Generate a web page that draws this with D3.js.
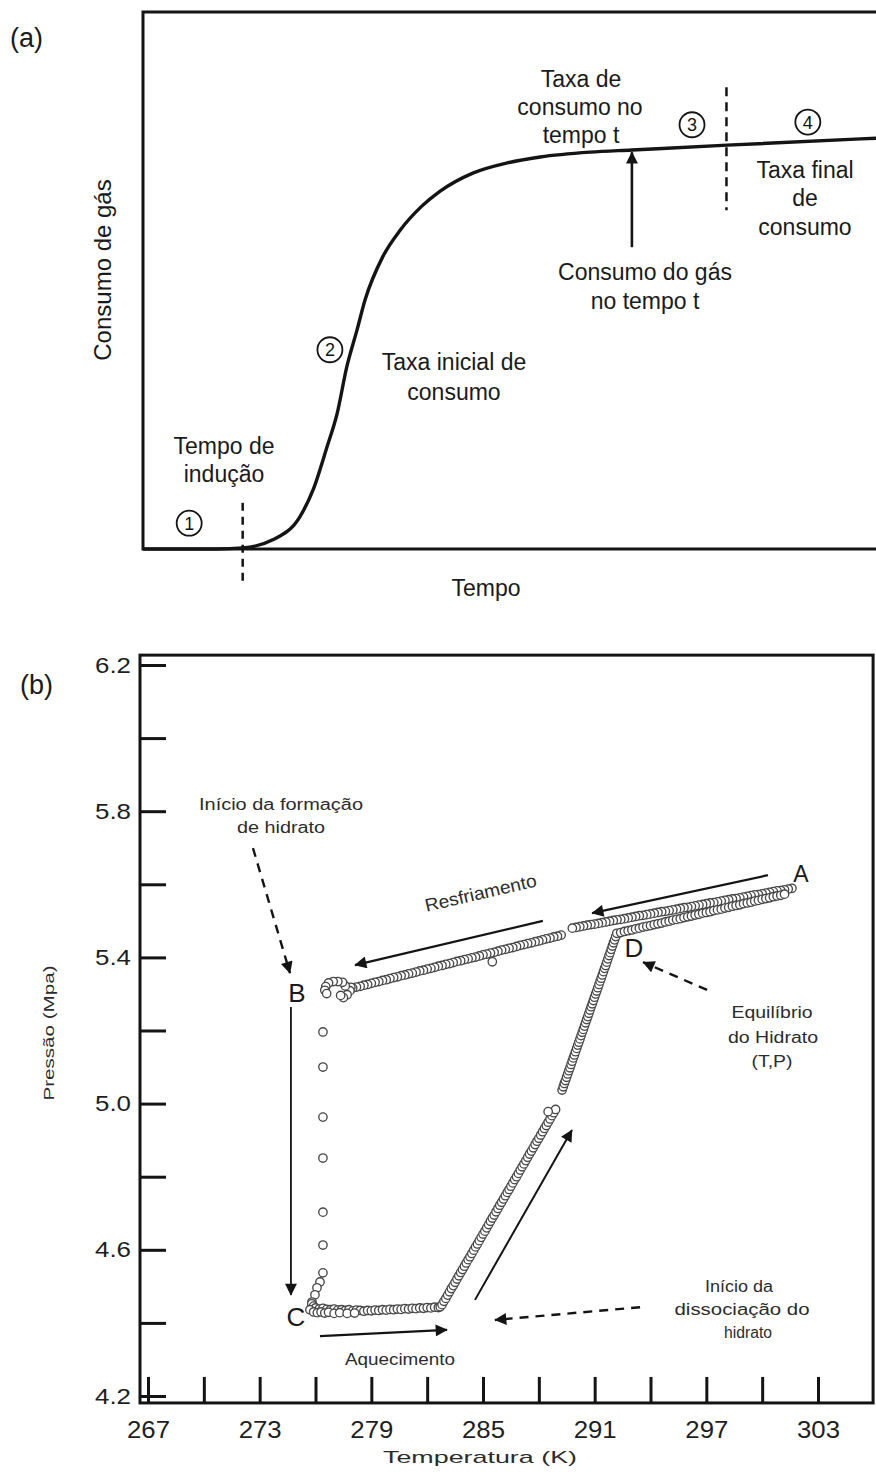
<!DOCTYPE html>
<html>
<head>
<meta charset="utf-8">
<script src="https://cdn.jsdelivr.net/npm/d3@7"></script>
<style>
  html, body { margin: 0; padding: 0; background: #fff; }
  svg { display: block; font-family: "Liberation Sans", Arial, sans-serif; }
</style>
</head>
<body>
<svg id="chart" width="876" height="1472"></svg>
<script>
// ---------------- Panel (a): gas consumption vs. time (arbitrary units) ----------------
const tempoA   = [0, 5, 10, 13.6, 17.7, 21.4, 23.2, 25.1, 26.5, 27.8, 29.2, 30.3, 32.7, 35.1, 38.0, 40.5, 45.0, 49.7, 54.2, 61.0, 66.7, 79.7, 100];
const consumoA = [0, 0, 0, 0.2, 1.7, 6.0, 11.0, 19.0, 25.3, 33.9, 40.8, 46.4, 54.4, 59.4, 63.8, 66.6, 70.0, 71.9, 73.0, 73.9, 74.3, 75.2, 76.5];

// stage markers of the consumption curve: [tempo, consumo, label]
const stageMarks = [[6.3, 4.8, "1"], [25.5, 37.1, "2"], [74.9, 79.0, "3"], [90.7, 79.5, "4"]];

// ---------------- Panel (b): pressure (MPa) vs. temperature (K) ----------------
// cooling A -> B (upper run, before the small gap)
const coolingUpper = [
  [301.6,5.589],[301.4,5.587],[301.2,5.585],[301.0,5.583],[300.8,5.582],[300.6,5.580],[300.4,5.578],[300.2,5.576],
  [300.0,5.574],[299.8,5.572],[299.6,5.571],[299.4,5.569],[299.2,5.567],[299.0,5.565],[298.8,5.563],[298.6,5.561],
  [298.4,5.560],[298.2,5.558],[298.0,5.556],[297.8,5.554],[297.6,5.552],[297.4,5.550],[297.2,5.549],[297.0,5.547],
  [296.8,5.545],[296.6,5.543],[296.4,5.541],[296.2,5.539],[296.0,5.537],[295.8,5.536],[295.6,5.534],[295.4,5.532],
  [295.2,5.530],[295.0,5.528],[294.8,5.526],[294.6,5.525],[294.4,5.523],[294.2,5.521],[294.0,5.519],[293.8,5.517],
  [293.6,5.515],[293.4,5.514],[293.2,5.512],[293.0,5.510],[292.8,5.508],[292.6,5.506],[292.4,5.504],[292.2,5.503],
  [292.0,5.501],[291.8,5.499],[291.6,5.497],[291.4,5.495],[291.2,5.493],[291.0,5.491],[290.8,5.490],[290.6,5.488],
  [290.4,5.486],[290.2,5.484],[290.0,5.482],[289.8,5.480]
];
// cooling A -> B (lower run, after the gap, down to B)
const coolingLower = [
  [289.2,5.461],[289.0,5.458],[288.8,5.456],[288.6,5.453],[288.4,5.451],[288.2,5.448],[288.0,5.445],[287.8,5.443],
  [287.6,5.440],[287.4,5.438],[287.2,5.435],[287.0,5.433],[286.8,5.430],[286.6,5.427],[286.4,5.425],[286.2,5.422],
  [286.0,5.420],[285.8,5.417],[285.6,5.414],[285.4,5.412],[285.5,5.388],[285.2,5.409],[285.0,5.407],[284.8,5.404],
  [284.6,5.401],[284.4,5.399],[284.2,5.396],[284.0,5.394],[283.8,5.391],[283.6,5.389],[283.4,5.386],[283.2,5.383],
  [283.0,5.381],[282.8,5.378],[282.6,5.376],[282.4,5.373],[282.2,5.370],[282.0,5.368],[281.8,5.365],[281.6,5.363],
  [281.4,5.360],[281.2,5.357],[281.0,5.355],[280.8,5.352],[280.6,5.350],[280.4,5.347],[280.2,5.345],[280.0,5.342],
  [279.8,5.339],[279.6,5.337],[279.4,5.334],[279.2,5.332],[279.0,5.329],[278.8,5.326],[278.6,5.324],[278.4,5.321],
  [278.2,5.319],[278.0,5.316]
];
// small loop at B where hydrate formation starts
const loopB = [
  [277.9,5.318],[277.85,5.309],[277.7,5.298],[277.5,5.290],[277.35,5.296],[277.6,5.322],[277.45,5.332],
  [277.2,5.334],[276.95,5.334],[276.7,5.330],[276.55,5.320],[276.5,5.310],[276.6,5.301]
];
// pressure drop B -> C during hydrate growth
const dropBC = [
  [276.4,5.196],[276.4,5.100],[276.4,4.963],[276.4,4.851],[276.4,4.703],[276.4,4.613],
  [276.4,4.537],[276.24,4.512],[276.08,4.496],[275.97,4.477],[275.81,4.457]
];
// heating from C, nearly constant pressure
const heatingFlat = [
  [275.8,4.452],[275.9,4.446],[276.0,4.441],[276.2,4.438],[276.4,4.440],[276.6,4.437],[276.8,4.436],[277.0,4.438],
  [277.2,4.435],[277.4,4.436],[277.6,4.434],[277.8,4.436],[278.0,4.433],[278.2,4.435],[278.4,4.434],[278.6,4.432],
  [278.8,4.434],[279.0,4.433],[279.2,4.435],[279.4,4.434],[279.6,4.436],[279.8,4.435],[280.0,4.437],[280.2,4.436],
  [280.4,4.438],[280.6,4.437],[280.8,4.439],[281.0,4.438],[281.2,4.440],[281.4,4.439],[281.6,4.441],[281.8,4.440],
  [282.0,4.442],[282.2,4.441],[282.4,4.443],[282.6,4.442],[282.7,4.444],
  [275.7,4.436],[275.9,4.430],[276.1,4.428],[276.3,4.430],[276.5,4.427],[276.7,4.429],[277.0,4.426],[277.3,4.428],
  [277.7,4.426],[278.1,4.427]
];
// heating: hydrate dissociation, steep rise (first run)
const riseLower = [
  [282.8,4.450],[282.9,4.459],[283.0,4.467],[283.1,4.476],[283.2,4.485],[283.3,4.494],[283.4,4.502],[283.5,4.511],
  [283.6,4.520],[283.7,4.529],[283.8,4.538],[283.9,4.546],[284.0,4.555],[284.1,4.564],[284.2,4.573],[284.3,4.581],
  [284.4,4.590],[284.5,4.599],[284.6,4.608],[284.7,4.616],[284.8,4.625],[284.9,4.634],[285.0,4.643],[285.1,4.651],
  [285.2,4.660],[285.3,4.669],[285.4,4.678],[285.5,4.687],[285.6,4.695],[285.7,4.704],[285.8,4.713],[285.9,4.722],
  [286.0,4.730],[286.1,4.739],[286.2,4.748],[286.3,4.757],[286.4,4.765],[286.5,4.774],[286.6,4.783],[286.7,4.792],
  [286.8,4.800],[286.9,4.809],[287.0,4.818],[287.1,4.827],[287.2,4.835],[287.3,4.844],[287.4,4.853],[287.5,4.862],
  [287.6,4.870],[287.7,4.879],[287.8,4.888],[287.9,4.897],[288.0,4.905],[288.1,4.914],[288.2,4.923],[288.3,4.932],
  [288.4,4.940],[288.5,4.949],[288.6,4.958],[288.7,4.967],[288.8,4.975],[288.9,4.984],[288.5,4.978]
];
// heating: steeper rise up to D
const riseUpper = [
  [289.25,5.037],[289.31,5.046],[289.37,5.055],[289.43,5.063],[289.49,5.072],[289.55,5.081],[289.61,5.090],[289.67,5.098],
  [289.73,5.107],[289.79,5.116],[289.85,5.125],[289.91,5.133],[289.97,5.142],[290.03,5.151],[290.09,5.160],[290.15,5.168],
  [290.21,5.177],[290.27,5.186],[290.33,5.195],[290.39,5.203],[290.45,5.212],[290.51,5.221],[290.57,5.230],[290.63,5.238],
  [290.69,5.247],[290.75,5.256],[290.81,5.265],[290.87,5.273],[290.93,5.282],[290.99,5.291],[291.05,5.300],[291.11,5.308],
  [291.17,5.317],[291.23,5.326],[291.29,5.335],[291.35,5.343],[291.41,5.352],[291.47,5.361],[291.53,5.370],[291.59,5.378],
  [291.65,5.387],[291.71,5.396],[291.77,5.405],[291.83,5.413],[291.89,5.422],[291.95,5.431],[292.01,5.440],[292.07,5.448],
  [292.13,5.457],[292.19,5.466]
];
// heating D -> A, gas phase only
const heatingDA = [
  [292.4,5.468],[292.6,5.471],[292.8,5.473],[293.0,5.475],[293.2,5.478],[293.4,5.480],[293.6,5.483],[293.8,5.485],
  [294.0,5.487],[294.2,5.490],[294.4,5.492],[294.6,5.494],[294.8,5.497],[295.0,5.499],[295.2,5.502],[295.4,5.504],
  [295.6,5.506],[295.8,5.509],[296.0,5.511],[296.2,5.513],[296.4,5.516],[296.6,5.518],[296.8,5.521],[297.0,5.523],
  [297.2,5.525],[297.4,5.528],[297.6,5.530],[297.8,5.532],[298.0,5.535],[298.2,5.537],[298.4,5.540],[298.6,5.542],
  [298.8,5.544],[299.0,5.547],[299.2,5.549],[299.4,5.551],[299.6,5.554],[299.8,5.556],[300.0,5.559],[300.2,5.561],
  [300.4,5.563],[300.6,5.566],[300.8,5.568],[301.0,5.570],[301.2,5.573]
];

const yTicksB  = [4.2, 4.4, 4.6, 4.8, 5.0, 5.2, 5.4, 5.6, 5.8, 6.0, 6.2];
const yLabelsB = [4.2, 4.6, 5.0, 5.4, 5.8, 6.2];
const xTicksB  = [267, 270, 273, 276, 279, 282, 285, 288, 291, 294, 297, 300, 303];
const xLabelsB = [267, 273, 279, 285, 291, 297, 303];

// ---------------- drawing ----------------
const svg = d3.select("#chart");
const ink = "#141414";
const FONT = '"Liberation Sans", Arial, sans-serif';

const defs = svg.append("defs");
function addMarker(id, w, h) {
  defs.append("marker")
    .attr("id", id).attr("viewBox", "0 0 10 10")
    .attr("refX", 9.5).attr("refY", 5)
    .attr("markerWidth", w).attr("markerHeight", h)
    .attr("markerUnits", "userSpaceOnUse").attr("orient", "auto")
    .append("path").attr("d", "M0,0 L10,5 L0,10 Z").attr("fill", ink);
}
addMarker("headA", 15, 12);
addMarker("headB", 15, 12);

function label(g, txt, x, y, opt = {}) {
  const t = g.append("text").attr("x", x).attr("y", y)
    .attr("text-anchor", opt.anchor || "middle")
    .attr("font-size", opt.size || 23)
    .attr("fill", opt.fill || "#1a1a1a")
    .text(txt);
  if (opt.len) t.attr("textLength", opt.len).attr("lengthAdjust", "spacingAndGlyphs");
  if (opt.transform) t.attr("transform", opt.transform);
  return t;
}

// ===== Panel (a) =====
const xA = d3.scaleLinear().domain([0, 100]).range([143, 876]);
const yA = d3.scaleLinear().domain([0, 100]).range([549, 12]);
const gA = svg.append("g");

gA.append("path")
  .attr("d", `M${xA(100) + 6},${yA(100)} H${xA(0)} V${yA(0)} H${xA(100) + 6}`)
  .attr("fill", "none").attr("stroke", ink).attr("stroke-width", 3);

const lineA = d3.line()
  .x(i => xA(tempoA[i])).y(i => yA(consumoA[i]))
  .curve(d3.curveMonotoneX);
gA.append("path").attr("d", lineA(d3.range(tempoA.length)))
  .attr("fill", "none").attr("stroke", ink).attr("stroke-width", 3.4);

// induction-time and final-rate separators
gA.append("line").attr("x1", xA(13.6)).attr("x2", xA(13.6)).attr("y1", yA(8.6)).attr("y2", yA(-6.9))
  .attr("stroke", ink).attr("stroke-width", 2.5).attr("stroke-dasharray", "8,6");
gA.append("line").attr("x1", xA(79.6)).attr("x2", xA(79.6)).attr("y1", yA(86.0)).attr("y2", yA(63.1))
  .attr("stroke", ink).attr("stroke-width", 2.5).attr("stroke-dasharray", "9,6");

// arrow pointing at the consumption at time t
gA.append("line").attr("x1", xA(66.7)).attr("x2", xA(66.7)).attr("y1", yA(56.2)).attr("y2", yA(73.9))
  .attr("stroke", ink).attr("stroke-width", 2.6).attr("marker-end", "url(#headA)");

// numbered stages
stageMarks.forEach(([t, c, n]) => {
  gA.append("circle").attr("cx", xA(t)).attr("cy", yA(c)).attr("r", 12.5)
    .attr("fill", "#fff").attr("stroke", ink).attr("stroke-width", 1.8);
  gA.append("text").attr("x", xA(t)).attr("y", yA(c) + 6.5).attr("text-anchor", "middle")
    .attr("font-size", 18).attr("fill", ink).text(n);
});

gA.attr("font-family", FONT);
label(gA, "(a)", 10, 47, { anchor: "start", size: 27 });
label(gA, "Consumo de gás", 0, 0, { size: 24, transform: "translate(111,270) rotate(-90)" });
label(gA, "Tempo", 486, 596, { size: 23 });
label(gA, "Tempo de", 224, 454);
label(gA, "indução", 224, 482);
label(gA, "Taxa inicial de", 454, 370);
label(gA, "consumo", 454, 400);
label(gA, "Taxa de", 581, 87);
label(gA, "consumo no", 580, 115);
label(gA, "tempo t", 581, 143);
label(gA, "Taxa final", 805, 178);
label(gA, "de", 805, 206);
label(gA, "consumo", 805, 235);
label(gA, "Consumo do gás", 645, 280);
label(gA, "no tempo t", 645, 309);

// ===== Panel (b) =====
const xB = d3.scaleLinear().domain([267, 303]).range([148, 818]);
const yB = d3.scaleLinear().domain([4.2, 6.2]).range([1396, 665]);
const frameT = [266.57, 305.96], frameP = [4.181, 6.227];
const gB = svg.append("g").attr("font-family", FONT);

gB.append("rect")
  .attr("x", xB(frameT[0])).attr("y", yB(frameP[1]))
  .attr("width", xB(frameT[1]) - xB(frameT[0])).attr("height", yB(frameP[0]) - yB(frameP[1]))
  .attr("fill", "none").attr("stroke", ink).attr("stroke-width", 3);

const isLabel = (arr, v) => arr.some(l => Math.abs(l - v) < 1e-6);

const axY = d3.axisLeft(yB).tickValues(yTicksB).tickSize(-26).tickPadding(9)
  .tickFormat(v => isLabel(yLabelsB, v) ? d3.format(".1f")(v) : "");
const gY = gB.append("g").attr("transform", `translate(${xB(frameT[0])},0)`).call(axY);
gY.attr("font-family", FONT).attr("font-size", 22);
gY.select(".domain").remove();
gY.selectAll(".tick line").attr("stroke", ink).attr("stroke-width", 3);
gY.selectAll(".tick text").attr("fill", "#1e1e1e")
  .filter(function () { return this.textContent !== ""; })
  .attr("textLength", 36).attr("lengthAdjust", "spacingAndGlyphs");

const axX = d3.axisBottom(xB).tickValues(xTicksB).tickSize(-26).tickPadding(19)
  .tickFormat(v => isLabel(xLabelsB, v) ? d3.format("d")(v) : "");
const gX = gB.append("g").attr("transform", `translate(0,${yB(frameP[0])})`).call(axX);
gX.attr("font-family", FONT).attr("font-size", 23);
gX.select(".domain").remove();
gX.selectAll(".tick line").attr("stroke", ink).attr("stroke-width", 3);
gX.selectAll(".tick text").attr("fill", "#1e1e1e")
  .filter(function () { return this.textContent !== ""; })
  .attr("textLength", 43).attr("lengthAdjust", "spacingAndGlyphs");

// measured points
const series = [coolingUpper, coolingLower, loopB, dropBC, heatingFlat, riseLower, riseUpper, heatingDA];
const gPts = gB.append("g");
series.forEach(s => {
  gPts.selectAll(null).data(s).enter().append("circle")
    .attr("cx", d => xB(d[0])).attr("cy", d => yB(d[1])).attr("r", 4.2)
    .attr("fill", "#fff").attr("stroke", "#474747").attr("stroke-width", 1.35);
});

// process arrows
function arrowB(t1, p1, t2, p2, dashed, width) {
  gB.append("line")
    .attr("x1", xB(t1)).attr("y1", yB(p1)).attr("x2", xB(t2)).attr("y2", yB(p2))
    .attr("stroke", ink).attr("stroke-width", width || 2)
    .attr("stroke-dasharray", dashed ? "9,7" : null)
    .attr("marker-end", "url(#headB)");
}
arrowB(300.31, 5.625, 290.86, 5.521, false, 2.2);   // cooling, near A
arrowB(288.22, 5.500, 278.12, 5.379, false, 2.2);   // cooling, towards B
arrowB(274.68, 5.264, 274.68, 4.476, false, 1.8);   // B -> C
arrowB(276.24, 4.364, 283.07, 4.381, false, 2.2);   // heating from C
arrowB(284.57, 4.463, 289.78, 4.928, false, 2.0);   // dissociation
arrowB(272.64, 5.699, 274.63, 5.357, true, 2.4);    // start of hydrate formation
arrowB(297.04, 5.311, 293.60, 5.387, true, 2.4);    // hydrate equilibrium point D
arrowB(293.44, 4.443, 285.64, 4.408, true, 2.4);    // start of dissociation

// point letters
label(gB, "A", 801, 882, { size: 23 });
label(gB, "B", 297, 1002, { size: 26 });
label(gB, "C", 296, 1326, { size: 26 });
label(gB, "D", 634, 957, { size: 26 });

const noteFill = "#2c2c2c";
label(gB, "(b)", 20, 694, { anchor: "start", size: 27 });
label(gB, "Início da formação", 281, 810, { size: 16, len: 164, fill: noteFill });
label(gB, "de hidrato", 281, 833, { size: 16, len: 88, fill: noteFill });
label(gB, "Resfriamento", 0, 0, { size: 18, len: 114, fill: noteFill, transform: "translate(482,899) rotate(-13)" });
label(gB, "Equilíbrio", 772, 1018, { size: 16, len: 81, fill: noteFill });
label(gB, "do Hidrato", 773, 1043, { size: 16, len: 90, fill: noteFill });
label(gB, "(T,P)", 772, 1067, { size: 16, len: 41, fill: noteFill });
label(gB, "Início da", 739, 1292, { size: 16, len: 68, fill: noteFill });
label(gB, "dissociação do", 742, 1315, { size: 16, len: 135, fill: noteFill });
label(gB, "hidrato", 748, 1338, { size: 16, len: 48, fill: noteFill });
label(gB, "Aquecimento", 400, 1365, { size: 16, len: 110, fill: noteFill });
label(gB, "Temperatura  (K)", 480, 1463, { size: 17, len: 194, fill: noteFill });
label(gB, "Pressão  (Mpa)", 0, 0, { size: 15, len: 135, fill: noteFill, transform: "translate(54,1033) rotate(-90)" });
</script>
</body>
</html>
